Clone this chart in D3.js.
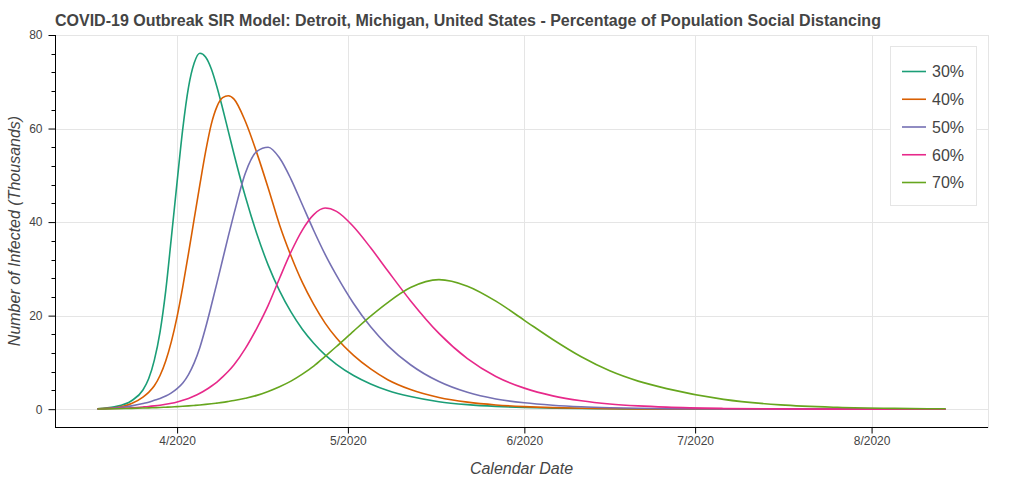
<!DOCTYPE html>
<html>
<head>
<meta charset="utf-8">
<script src="https://cdn.jsdelivr.net/npm/d3@7"></script>
<style>
  html, body { margin: 0; padding: 0; background: #fff; }
  svg { display: block; }
  text { font-family: "Liberation Sans", Arial, Helvetica, sans-serif; }
</style>
</head>
<body>
<svg id="chart" width="1024" height="482"></svg>
<script>
// ---- data ----
const titleText = "COVID-19 Outbreak SIR Model: Detroit, Michigan, United States - Percentage of Population Social Distancing";
const xLabel = "Calendar Date";
const yLabel = "Number of Infected (Thousands)";
const startDate = "2020-03-18";
const days = [0,3,6,8,9,10,11,12,13,14,15,16,17,18,19,20,21,22,23,24,26,28,30,32,34,36,38,40,42,45,48,51,55,60,65,70,75,80,85,90,95,100,110,120,130,140,149];
const seriesNames = ["30%", "40%", "50%", "60%", "70%"];
const s30 = [0.1,0.5,1.8,4.1,6.5,10.5,16.5,25.3,36.8,48.6,60.0,68.8,74.0,76.1,75.3,72.8,68.9,64.3,59.4,54.5,45.4,37.5,30.8,25.3,20.8,17.1,14.1,11.6,9.6,7.2,5.4,4.0,2.7,1.6,0.98,0.6,0.37,0.23,0.14,0.09,0.06,0.035,0.013,0.005,0.002,0,0];
const s40 = [0.08,0.3,1.2,2.6,3.6,5.0,7.2,10.3,14.5,19.8,26.2,33.3,40.7,48.0,55.0,60.9,64.7,66.6,67.0,66.3,61.5,54.8,47.3,39.4,32.8,27.1,22.4,18.4,15.2,11.5,8.6,6.3,4.2,2.5,1.5,0.9,0.55,0.33,0.2,0.12,0.075,0.045,0.017,0.006,0.002,0,0];
const s50 = [0.05,0.25,0.7,1.2,1.5,1.9,2.3,2.8,3.5,4.4,5.6,7.4,9.9,13.2,17.4,22.1,27.0,32.0,37.0,41.8,50.5,55.1,56.0,53.7,49.2,43.7,38.2,33.1,28.6,22.6,17.6,13.6,9.5,5.9,3.6,2.18,1.36,0.85,0.52,0.32,0.2,0.12,0.045,0.017,0.006,0.002,0];
const s60 = [0.05,0.14,0.3,0.47,0.57,0.7,0.85,1.04,1.27,1.55,1.9,2.3,2.8,3.4,4.1,4.9,5.8,6.9,8.1,9.5,13.0,17.3,22.2,28.0,33.6,38.3,41.6,43.0,42.3,39.0,34.5,29.6,23.2,16.2,10.8,7.0,4.5,2.85,1.8,1.12,0.7,0.43,0.16,0.06,0.02,0.01,0];
const s70 = [0.03,0.08,0.17,0.24,0.28,0.32,0.37,0.42,0.48,0.55,0.62,0.7,0.8,0.9,1.02,1.15,1.3,1.46,1.65,1.85,2.35,2.95,3.8,4.8,6.0,7.5,9.2,11.3,13.4,16.7,19.9,22.8,26.0,27.7,26.3,23.1,19.0,14.9,11.2,8.2,6.0,4.4,2.1,0.92,0.4,0.17,0.08];
const seriesValues = [s30, s40, s50, s60, s70];
const colors = ["#1b9e77", "#d95f02", "#7570b3", "#e7298a", "#66a61e"];
const tickDates = ["2020-04-01", "2020-05-01", "2020-06-01", "2020-07-01", "2020-08-01"];
const tickLabels = ["4/2020", "5/2020", "6/2020", "7/2020", "8/2020"];
const yTicks = [0, 20, 40, 60, 80];

// ---- layout ----
const svg = d3.select("#chart");
const plot = { left: 55, right: 988, top: 35, bottom: 427 };
const textColor = "#444444";
const gridColor = "#e5e5e5";

const parse = d3.utcParse("%Y-%m-%d");
const t0 = parse(startDate);
const dates = days.map(d => d3.utcDay.offset(t0, d));
const tFirst = dates[0], tLast = dates[dates.length - 1];
const span = tLast - tFirst;
const x = d3.scaleUtc()
  .domain([new Date(+tFirst - span * 0.05), new Date(+tLast + span * 0.05)])
  .range([plot.left, plot.right]);
const y = d3.scaleLinear().domain([-3.81, 80]).range([plot.bottom, plot.top]);

// grid
const tickDateObjs = tickDates.map(parse);
svg.append("g").selectAll("line").data(tickDateObjs).join("line")
  .attr("x1", d => Math.round(x(d)) + 0.5).attr("x2", d => Math.round(x(d)) + 0.5)
  .attr("y1", plot.top).attr("y2", plot.bottom)
  .attr("stroke", gridColor).attr("stroke-width", 1);
svg.append("g").selectAll("line").data(yTicks).join("line")
  .attr("x1", plot.left).attr("x2", plot.right)
  .attr("y1", d => Math.round(y(d)) + 0.5).attr("y2", d => Math.round(y(d)) + 0.5)
  .attr("stroke", gridColor).attr("stroke-width", 1);

// outline
svg.append("rect")
  .attr("x", plot.left + 0.5).attr("y", plot.top + 0.5)
  .attr("width", plot.right - plot.left).attr("height", plot.bottom - plot.top)
  .attr("fill", "none").attr("stroke", gridColor);

// lines
const line = d3.line()
  .x((d, i) => x(dates[i]))
  .y(d => y(d))
  .curve(d3.curveMonotoneX);
svg.append("g").selectAll("path").data(seriesValues).join("path")
  .attr("d", d => line(d))
  .attr("fill", "none")
  .attr("stroke", (d, i) => colors[i])
  .attr("stroke-width", 1.6)
  .attr("stroke-linejoin", "round");

// x axis
const xAxis = d3.axisBottom(x)
  .tickValues(tickDateObjs)
  .tickFormat((d, i) => tickLabels[i])
  .tickSizeInner(6).tickSizeOuter(0).tickPadding(3);
const gx = svg.append("g").attr("transform", `translate(0,${plot.bottom + 0.5})`).call(xAxis);
gx.select(".domain").attr("stroke", "#000").attr("d", `M${plot.left},0H${plot.right}`);
gx.selectAll(".tick line").attr("stroke", "#000");
gx.selectAll(".tick text").attr("fill", textColor)
  .style("font-size", "12px").style("font-family", "'Liberation Sans', Arial, sans-serif");

// y axis (major + minor)
const yMinor = d3.range(4, 80, 4).filter(v => v % 20 !== 0);
const gyMinor = svg.append("g").attr("transform", `translate(${plot.left + 0.5},0)`);
gyMinor.selectAll("line").data(yMinor).join("line")
  .attr("x1", -4).attr("x2", 0)
  .attr("y1", d => Math.round(y(d)) + 0.5).attr("y2", d => Math.round(y(d)) + 0.5)
  .attr("stroke", "#000");
const yAxis = d3.axisLeft(y).tickValues(yTicks).tickFormat(d3.format("d"))
  .tickSizeInner(7).tickSizeOuter(0).tickPadding(6);
const gy = svg.append("g").attr("transform", `translate(${plot.left + 0.5},0)`).call(yAxis);
gy.select(".domain").attr("stroke", "#000").attr("d", `M0,${plot.top}V${plot.bottom + 0.5}`);
gy.selectAll(".tick line").attr("stroke", "#000");
gy.selectAll(".tick text").attr("fill", textColor)
  .style("font-size", "12px").style("font-family", "'Liberation Sans', Arial, sans-serif");

// axis labels
svg.append("text")
  .attr("x", (plot.left + plot.right) / 2).attr("y", 474)
  .attr("text-anchor", "middle")
  .attr("fill", textColor)
  .style("font-size", "16px").style("font-style", "italic")
  .text(xLabel);
svg.append("text")
  .attr("transform", `translate(20,${(plot.top + plot.bottom) / 2}) rotate(-90)`)
  .attr("text-anchor", "middle")
  .attr("fill", textColor)
  .style("font-size", "16px").style("font-style", "italic")
  .text(yLabel);

// title
svg.append("text")
  .attr("x", plot.left).attr("y", 26)
  .attr("fill", textColor)
  .style("font-size", "16px").style("font-weight", "bold")
  .text(titleText);

// legend
const lg = svg.append("g");
lg.append("rect")
  .attr("x", 890.5).attr("y", 46.5).attr("width", 86).attr("height", 159)
  .attr("fill", "#fff").attr("stroke", gridColor);
const items = lg.selectAll("g.item").data(seriesNames).join("g")
  .attr("class", "item")
  .attr("transform", (d, i) => `translate(902,${71.5 + i * 27.75})`);
items.append("line")
  .attr("x1", 0).attr("x2", 24).attr("y1", 0).attr("y2", 0)
  .attr("stroke", (d, i) => colors[i]).attr("stroke-width", 1.6);
items.append("text")
  .attr("x", 30).attr("y", 0).attr("dy", "0.36em")
  .attr("fill", textColor)
  .style("font-size", "16px")
  .text(d => d);
</script>
</body>
</html>
